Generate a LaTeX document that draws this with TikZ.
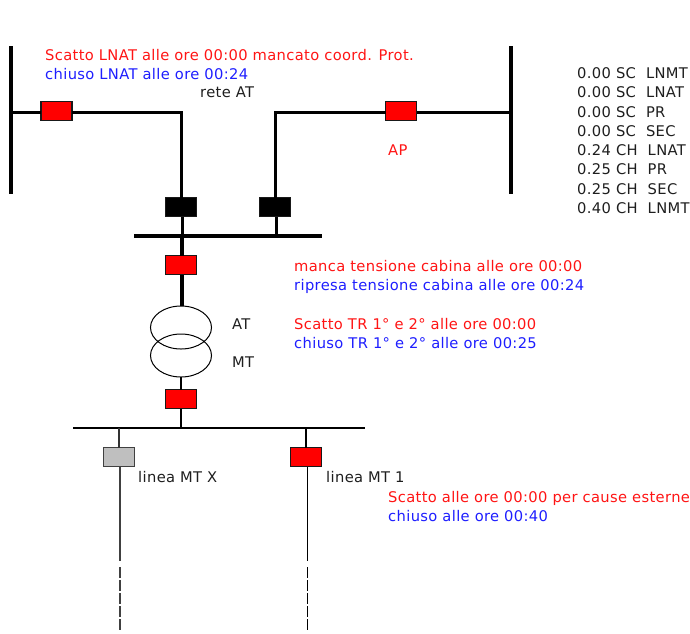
\documentclass[tikz,border=0pt]{standalone}
\usepackage{fontspec}
\setmainfont[LetterSpace=2.4]{DejaVu Sans}
\definecolor{txtred}{RGB}{255,20,20}
\definecolor{txtblue}{RGB}{30,30,255}
\definecolor{txtdark}{RGB}{30,30,30}
\usetikzlibrary{shapes.geometric}
\tikzset{
  sw/.style={draw=black!90,line width=1.2pt,minimum width=31pt,minimum height=19pt,inner sep=0pt,outer sep=0pt},
  redsw/.style={sw,fill=red},
  blacksw/.style={sw,fill=black},
  greysw/.style={sw,draw=black!75,fill=black!25},
  lbl/.style={anchor=base west,inner sep=0pt,font=\fontsize{14.7}{17}\selectfont},
  redlbl/.style={lbl,text=txtred},
  bluelbl/.style={lbl,text=txtblue},
  darklbl/.style={lbl,text=txtdark},
  heavy/.style={line width=3.6pt},
  medium/.style={line width=3pt},
  thin1/.style={line width=1.2pt},
  winding/.style={draw=black,line width=1pt,ellipse,minimum width=61pt,inner sep=0pt,outer sep=0pt}
}
\begin{document}
\begin{tikzpicture}[x=1pt,y=-1pt]
\useasboundingbox (0,0) rectangle (690,633);
% bus end points
\coordinate (lbt) at (11,46); \coordinate (lbb) at (11,194); \coordinate (lbj) at (11,112);
\coordinate (rbt) at (511,46); \coordinate (rbb) at (511,194); \coordinate (rbj) at (511,112);
\coordinate (atl) at (134,236); \coordinate (atr) at (322,236);
\coordinate (mtl) at (73,428); \coordinate (mtr) at (365,428);
\coordinate (ja) at (182,236); \coordinate (jb) at (276,236);
\coordinate (jc) at (181,428); \coordinate (jd) at (119,428); \coordinate (je) at (306,428);
\coordinate (c1) at (181.5,112); \coordinate (c2) at (275.5,112);
\coordinate (xe) at (120,561); \coordinate (ye) at (307.5,561);
\coordinate (xds) at (120,567); \coordinate (xde) at (120,630);
\coordinate (yds) at (307.5,567); \coordinate (yde) at (307.5,630);
% connectors
\draw[heavy] (lbt) -- (lbb);
\draw[heavy] (rbt) -- (rbb);
\draw[heavy] (atl) -- (atr);
\draw[thin1] (mtl) -- (mtr);
\node[redsw] (s1) at (56.5,111) {};
\node[redsw] (s2) at (401,111) {};
\node[blacksw] (b1) at (181,207) {};
\node[blacksw] (b2) at (275,207) {};
\node[redsw] (s3) at (181,265) {};
\node[winding,minimum height=43pt] (t1) at (181,327.5) {};
\node[winding,minimum height=43pt] (t2) at (181,355.5) {};
\node[redsw] (s4) at (181,399) {};
\node[greysw] (gx) at (119,457) {};
\node[redsw] (s5) at (306,457) {};
\draw[medium] (lbj) -- (lbj -| s1.west);
\draw[medium] (lbj -| s1.east) -- (c1) -- (c1 |- b1.north);
\draw[medium] (rbj) -- (rbj -| s2.east);
\draw[medium] (rbj -| s2.west) -- (c2) -- (c2 |- b2.north);
\draw[medium] (ja |- b1.south) -- (ja);
\draw[medium] (jb |- b2.south) -- (jb);
\draw[heavy] (ja) -- (ja |- s3.north);
\draw[heavy] (ja |- s3.south) -- (ja |- t1.north);
\draw[thin1] (t2.south) -- (s4.north);
\draw[thin1] (s4.south) -- (jc);
\draw[thin1,black!80] (jd) -- (gx.north -| jd);
\draw[thin1] (je) -- (s5.north -| je);
\draw[thin1,black!75] (gx.south -| xe) -- (xe);
\draw[thin1] (s5.south -| ye) -- (ye);
\draw[thin1,black!75,dash pattern=on 11pt off 2pt] (xds) -- (xde);
\draw[thin1,dash pattern=on 11pt off 2pt] (yds) -- (yde);
% labels
\node[redlbl] (l1) at (45,60) {Scatto LNAT alle ore 00:00 mancato coord. Prot.};
\node[bluelbl] (l2) at (45,79) {chiuso LNAT alle ore 00:24};
\node[darklbl] (l3) at (200,97) {rete AT};
\node[redlbl] (l4) at (388,155) {AP};
\node[redlbl] (l5) at (294,271) {manca tensione cabina alle ore 00:00};
\node[bluelbl] (l6) at (294,290) {ripresa tensione cabina alle ore 00:24};
\node[darklbl] (l7) at (232,329) {AT};
\node[darklbl] (l8) at (232,367) {MT};
\node[redlbl] (l9) at (294,329) {Scatto TR 1° e 2° alle ore 00:00};
\node[bluelbl] (l10) at (294,348) {chiuso TR 1° e 2° alle ore 00:25};
\node[darklbl] (l11) at (138,482) {linea MT X};
\node[darklbl] (l12) at (326,482) {linea MT 1};
\node[redlbl] (l13) at (388,502) {Scatto alle ore 00:00 per cause esterne};
\node[bluelbl] (l14) at (388,521) {chiuso alle ore 00:40};
\node[darklbl] (r1) at (577,78) {0.00 SC\ \ LNMT};
\node[darklbl] (r2) at (577,97) {0.00 SC\ \ LNAT};
\node[darklbl] (r3) at (577,117) {0.00 SC\ \ PR};
\node[darklbl] (r4) at (577,136) {0.00 SC\ \ SEC};
\node[darklbl] (r5) at (577,155) {0.24 CH\ \ LNAT};
\node[darklbl] (r6) at (577,174) {0.25 CH\ \ PR};
\node[darklbl] (r7) at (577,194) {0.25 CH\ \ SEC};
\node[darklbl] (r8) at (577,213) {0.40 CH\ \ LNMT};
\end{tikzpicture}
\end{document}
